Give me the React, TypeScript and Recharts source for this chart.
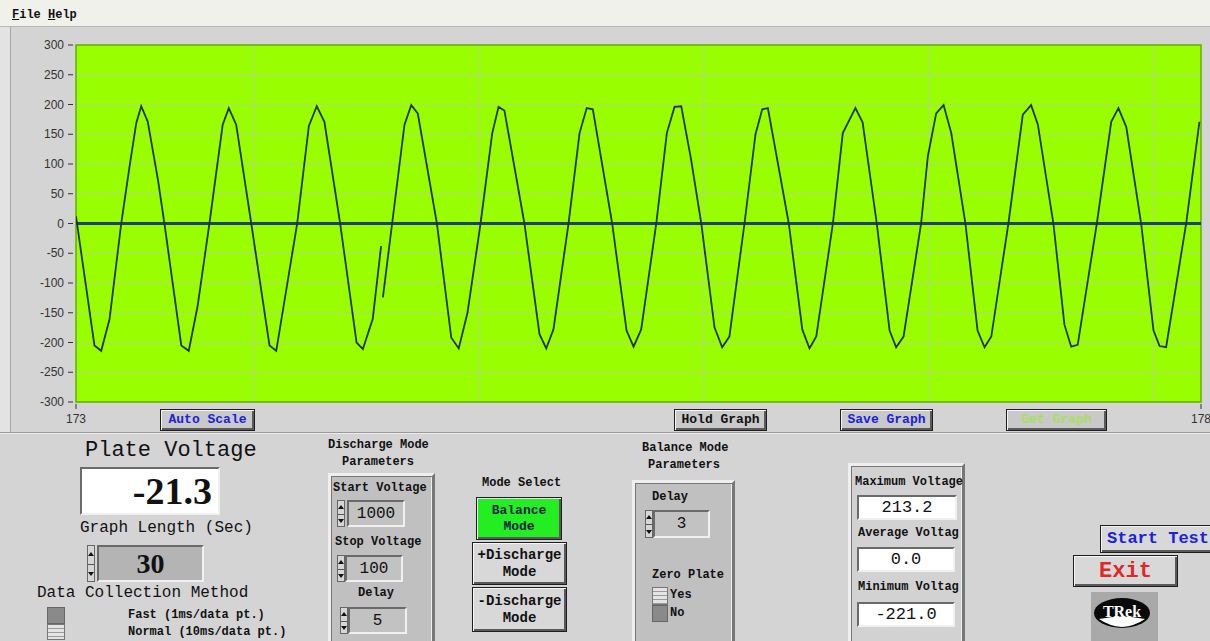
import React from "react";
import { CartesianGrid, Line, LineChart, ReferenceArea, XAxis, YAxis } from "recharts";

// plate voltage trace (seconds, volts)
const times = [
  173.0, 173.082, 173.112, 173.149, 173.201, 173.238, 173.268, 173.29, 173.319, 173.364,
  173.393, 173.468, 173.501, 173.54, 173.593, 173.652, 173.679, 173.712, 173.779, 173.86,
  173.89, 173.983, 174.035, 174.07, 174.104, 174.174, 174.247, 174.275, 174.319, 174.356,
  174.36, 174.364, 174.405, 174.46, 174.49, 174.519, 174.604, 174.668, 174.701, 174.74,
  174.798, 174.85, 174.878, 174.904, 174.993, 175.06, 175.09, 175.122, 175.189, 175.238,
  175.27, 175.297, 175.383, 175.447, 175.478, 175.512, 175.579, 175.626, 175.66, 175.69,
  175.734, 175.779, 175.838, 175.872, 175.904, 175.971, 176.02, 176.05, 176.075, 176.168,
  176.228, 176.26, 176.29, 176.364, 176.408, 176.464, 176.496, 176.559, 176.616, 176.645,
  176.678, 176.756, 176.786, 176.823, 176.856, 176.89, 176.953, 177.007, 177.038, 177.068,
  177.144, 177.208, 177.245, 177.275, 177.344, 177.393, 177.423, 177.452, 177.537, 177.601,
  177.633, 177.668, 177.734, 177.789, 177.816, 177.845, 177.934, 177.993,
];
const volts = [
  12, -205, -214, -161, 0, 96, 169, 197, 171, 74,
  0, -205, -214, -140, 0, 166, 194, 166, 0, -205,
  -214, 0, 164, 197, 171, 0, -200, -211, -160, -38,
  null, -124, 0, 166, 199, 185, 0, -192, -210, -150,
  0, 152, 196, 190, 0, -186, -210, -178, 0, 152,
  194, 192, 0, -180, -207, -178, 0, 152, 196, 197,
  107, 0, -175, -208, -190, 0, 150, 192, 194, 0,
  -178, -210, -190, 0, 152, 194, 170, 0, -180, -208,
  -190, 0, 113, 185, 199, 152, 0, -180, -208, -190,
  0, 183, 199, 166, 0, -170, -207, -204, 0, 171,
  194, 162, 0, -180, -206, -208, 0, 171,
];

// average voltage line
const avgTimes = [173, 178];
const avgVolts = [0, 0];

const voltTicks = [-300, -250, -200, -150, -100, -50, 0, 50, 100, 150, 200, 250, 300];
const timeTicks = [173, 178];
const gridTimes = [173.79, 174.79, 175.79, 176.79, 177.79];

const traceData = times.map((t, i) => ({ t, v: volts[i] }));
const avgData = avgTimes.map((t, i) => ({ t, v: avgVolts[i] }));

const mono = '"Liberation Mono", "DejaVu Sans Mono", monospace';
const sans = '"Liberation Sans", Arial, sans-serif';
const serif = '"Liberation Serif", "Times New Roman", serif';

function YTick(props: any) {
  const { x, y, payload } = props;
  return (
    <g>
      <line x1={x - 8} x2={x - 3} y1={y} y2={y} stroke="#333" />
      <text x={x - 12} y={y} dy={4} textAnchor="end" fontSize={12} fill="#333" fontFamily={sans}>
        {payload.value}
      </text>
    </g>
  );
}

function XTick(props: any) {
  const { x, y, payload } = props;
  return (
    <g>
      <line x1={x} x2={x} y1={y + 2} y2={y + 7} stroke="#333" />
      <text x={x} y={y + 21} textAnchor="middle" fontSize={12} fill="#333" fontFamily={sans}>
        {payload.value}
      </text>
    </g>
  );
}

function T({ x, y, size = 12, bold = true, color = "#111", font = mono, children }: any) {
  return (
    <div
      style={{
        position: "absolute",
        left: x,
        top: y,
        fontSize: size,
        lineHeight: `${size}px`,
        fontWeight: bold ? "bold" : "normal",
        color,
        fontFamily: font,
        whiteSpace: "pre",
      }}
    >
      {children}
    </div>
  );
}

function Button({ x, y, w, h, color, bg = "#c9c9c9", size = 13, children, align = "center" }: any) {
  return (
    <div
      style={{
        position: "absolute",
        left: x,
        top: y,
        width: w,
        height: h,
        boxSizing: "border-box",
        background: bg,
        border: "1px solid #1e1e1e",
        boxShadow: "inset 1px 1px 0 #f6f6f6, inset -2px -2px 0 #5a5a5a",
        display: "flex",
        alignItems: "center",
        justifyContent: align,
        paddingLeft: align === "center" ? 0 : 6,
        fontFamily: mono,
        fontWeight: "bold",
        fontSize: size,
        color,
        textAlign: "center",
        lineHeight: `${size + 3}px`,
        whiteSpace: "pre",
      }}
    >
      {children}
    </div>
  );
}

function Field({ x, y, w, h, bg = "#c2c2c2", size = 16, bold = false, font = mono, align = "center", children }: any) {
  return (
    <div
      style={{
        position: "absolute",
        left: x,
        top: y,
        width: w,
        height: h,
        boxSizing: "border-box",
        background: bg,
        border: "2px solid",
        borderColor: "#6a6a6a #f0f0f0 #f0f0f0 #6a6a6a",
        display: "flex",
        alignItems: "center",
        justifyContent: align,
        paddingRight: align === "flex-end" ? 6 : 0,
        fontFamily: font,
        fontWeight: bold ? "bold" : "normal",
        fontSize: size,
        color: "#111",
      }}
    >
      {children}
    </div>
  );
}

function Spin({ x, y, h }: any) {
  const half = h / 2;
  return (
    <div
      style={{
        position: "absolute",
        left: x,
        top: y,
        width: 8,
        height: h,
        boxSizing: "border-box",
        background: "#d6d6d6",
        border: "1px solid #666",
      }}
    >
      <div
        style={{
          position: "absolute",
          left: 0,
          top: half / 2 - 3,
          borderLeft: "3px solid transparent",
          borderRight: "3px solid transparent",
          borderBottom: "4px solid #111",
        }}
      />
      <div style={{ position: "absolute", left: 0, top: half - 1, width: 6, height: 1, background: "#555" }} />
      <div
        style={{
          position: "absolute",
          left: 0,
          top: half + half / 2 - 2,
          borderLeft: "3px solid transparent",
          borderRight: "3px solid transparent",
          borderTop: "4px solid #111",
        }}
      />
    </div>
  );
}

function Frame({ x, y, w, h, bg = "#c0c0c0" }: any) {
  return (
    <div
      style={{
        position: "absolute",
        left: x,
        top: y,
        width: w,
        height: h,
        boxSizing: "border-box",
        background: bg,
        border: "3px solid",
        borderColor: "#efefef #777 #777 #efefef",
        boxShadow: "inset 1px 1px 0 #777, inset -1px -1px 0 #efefef",
      }}
    />
  );
}

function Toggle({ x, y, w, h, darkTop }: any) {
  const dark = { background: "#8a8a8a", border: "1px solid #666" };
  const light = {
    background: "repeating-linear-gradient(#e4e4e4 0px, #e4e4e4 3px, #9a9a9a 3px, #9a9a9a 4px)",
    border: "1px solid #777",
  };
  return (
    <div style={{ position: "absolute", left: x, top: y, width: w, height: h }}>
      <div style={{ position: "absolute", left: 0, top: 0, width: w, height: h / 2, boxSizing: "border-box", ...(darkTop ? dark : light) }} />
      <div style={{ position: "absolute", left: 0, top: h / 2, width: w, height: h / 2, boxSizing: "border-box", ...(darkTop ? light : dark) }} />
    </div>
  );
}

export default function App() {
  return (
    <div
      style={{
        position: "fixed",
        left: 0,
        top: 0,
        width: 1210,
        height: 641,
        background: "#d4d4d4",
        overflow: "hidden",
        fontFamily: mono,
      }}
    >
      {/* menu bar */}
      <div style={{ position: "absolute", left: 0, top: 0, width: 1210, height: 26, background: "#f1f1ec", borderBottom: "1px solid #b8b8b8" }} />
      <T x={12} y={9} size={12}>
        <span style={{ textDecoration: "underline" }}>F</span>ile <span style={{ textDecoration: "underline" }}>H</span>elp
      </T>
      <div style={{ position: "absolute", left: 0, top: 27, width: 10, height: 405, background: "#e3e3e3", borderRight: "1px solid #a6a6a6" }} />
      <div style={{ position: "absolute", left: 0, top: 432, width: 1210, height: 1, background: "#9a9a9a" }} />
      <div style={{ position: "absolute", left: 0, top: 433, width: 1210, height: 1, background: "#ececec" }} />

      {/* graph */}
      <div style={{ position: "absolute", left: 0, top: 0 }}>
        <LineChart width={1210} height={440} margin={{ top: 45, right: 9, bottom: 13, left: 0 }}>
          <CartesianGrid
            fill="#99ff00"
            stroke="#b4d38a"
            strokeWidth={1}
            horizontalValues={voltTicks}
            verticalValues={gridTimes}
          />
          <XAxis
            dataKey="t"
            type="number"
            domain={[173, 178]}
            ticks={timeTicks}
            interval={0}
            allowDataOverflow
            height={25}
            axisLine={false}
            tickLine={false}
            tickSize={0}
            tickMargin={0}
            tick={<XTick />}
          />
          <YAxis
            type="number"
            domain={[-300, 300]}
            ticks={voltTicks}
            interval={0}
            allowDataOverflow
            width={76}
            axisLine={false}
            tickLine={false}
            tickSize={0}
            tickMargin={0}
            tick={<YTick />}
          />
          <ReferenceArea x1={173} x2={178} y1={-300} y2={300} fill="none" stroke="#63b000" strokeWidth={1.5} />
          <Line
            data={avgData}
            dataKey="v"
            type="linear"
            stroke="#1f3f7a"
            strokeWidth={3}
            dot={false}
            isAnimationActive={false}
          />
          <Line
            data={traceData}
            dataKey="v"
            type="linear"
            stroke="#1f3a12"
            strokeWidth={1.8}
            dot={false}
            connectNulls={false}
            isAnimationActive={false}
          />
        </LineChart>
      </div>

      {/* graph buttons */}
      <Button x={160} y={409} w={95} h={22} color="#1a22e0">Auto Scale</Button>
      <Button x={674} y={409} w={93} h={22} color="#111">Hold Graph</Button>
      <Button x={840} y={409} w={93} h={22} color="#1a22e0">Save Graph</Button>
      <Button x={1006} y={409} w={101} h={22} color="#a6e060">Get Graph</Button>

      {/* plate voltage */}
      <T x={85} y={440} size={22} bold={false}>Plate Voltage</T>
      <Field x={80} y={467} w={140} h={48} bg="#ffffff" size={38} bold font={serif} align="flex-end">-21.3</Field>
      <T x={80} y={520} size={16} bold={false}>Graph Length (Sec)</T>
      <Spin x={87} y={545} h={37} />
      <Field x={97} y={545} w={107} h={37} bg="#b4b4b4" size={28} bold font={serif}>30</Field>
      <T x={37} y={585} size={16} bold={false}>Data Collection Method</T>
      <Toggle x={47} y={607} w={18} h={33} darkTop />
      <T x={128} y={609} size={12}>Fast (1ms/data pt.)</T>
      <T x={128} y={626} size={12}>Normal (10ms/data pt.)</T>

      {/* discharge mode parameters */}
      <T x={328} y={439} size={12}>Discharge Mode</T>
      <T x={342} y={456} size={12}>Parameters</T>
      <Frame x={328} y={473} w={107} h={175} />
      <T x={333} y={482} size={12}>Start Voltage</T>
      <Spin x={337} y={500} h={27} />
      <Field x={347} y={500} w={58} h={27}>1000</Field>
      <T x={335} y={536} size={12}>Stop Voltage</T>
      <Spin x={337} y={555} h={27} />
      <Field x={345} y={555} w={58} h={27}>100</Field>
      <T x={358} y={587} size={12}>Delay</T>
      <Spin x={340} y={607} h={27} />
      <Field x={348} y={607} w={59} h={27}>5</Field>

      {/* mode select */}
      <T x={482} y={477} size={12}>Mode Select</T>
      <Button x={476} y={497} w={86} h={43} color="#0f1f4a" bg="#22ee22">{"Balance\nMode"}</Button>
      <Button x={472} y={542} w={95} h={43} color="#111" bg="#d8d8d8" size={14}>{"+Discharge\nMode"}</Button>
      <Button x={472} y={587} w={95} h={45} color="#111" bg="#d8d8d8" size={14}>{"-Discharge\nMode"}</Button>

      {/* balance mode parameters */}
      <T x={642} y={442} size={12}>Balance Mode</T>
      <T x={648} y={459} size={12}>Parameters</T>
      <Frame x={632} y={480} w={103} h={170} />
      <T x={652} y={491} size={12}>Delay</T>
      <Spin x={645} y={510} h={28} />
      <Field x={653} y={510} w={57} h={28}>3</Field>
      <T x={652} y={569} size={12}>Zero Plate</T>
      <Toggle x={652} y={587} w={16} h={35} darkTop={false} />
      <T x={670} y={589} size={12}>Yes</T>
      <T x={670} y={607} size={12}>No</T>

      {/* voltage statistics */}
      <div style={{ position: "absolute", left: 848, top: 463, width: 117, height: 185, overflow: "hidden" }}>
        <Frame x={0} y={0} w={117} h={185} bg="#d2d2d2" />
        <T x={7} y={13} size={12}>Maximum Voltage</T>
        <Field x={9} y={32} w={100} h={25} bg="#ffffff" size={17}>213.2</Field>
        <T x={10} y={64} size={12}>Average Voltag</T>
        <Field x={9} y={84} w={98} h={25} bg="#ffffff" size={17}>0.0</Field>
        <T x={10} y={118} size={12}>Minimum Voltag</T>
        <Field x={9} y={139} w={98} h={25} bg="#ffffff" size={17}>-221.0</Field>
      </div>

      {/* run controls */}
      <Button x={1100} y={525} w={125} h={28} color="#1a22e0" bg="#d8d8d8" size={17} align="flex-start">Start Test</Button>
      <Button x={1073} y={555} w={105} h={32} color="#e02828" bg="#d8d8d8" size={22}>Exit</Button>
      <svg style={{ position: "absolute", left: 1091, top: 592 }} width={67} height={49}>
        <rect x={0} y={0} width={67} height={49} fill="#a9a9a9" />
        <ellipse cx={31} cy={21} rx={28} ry={15} fill="#0a0a0a" />
        <path d="M 8 27 Q 31 22 54 27 Q 44 34 31 35 Q 18 34 8 27 Z" fill="#ffffff" />
        <text x={31} y={25} textAnchor="middle" fontSize={16} fontWeight="bold" fontFamily={serif} fill="#ffffff">
          TRek
        </text>
      </svg>
    </div>
  );
}
